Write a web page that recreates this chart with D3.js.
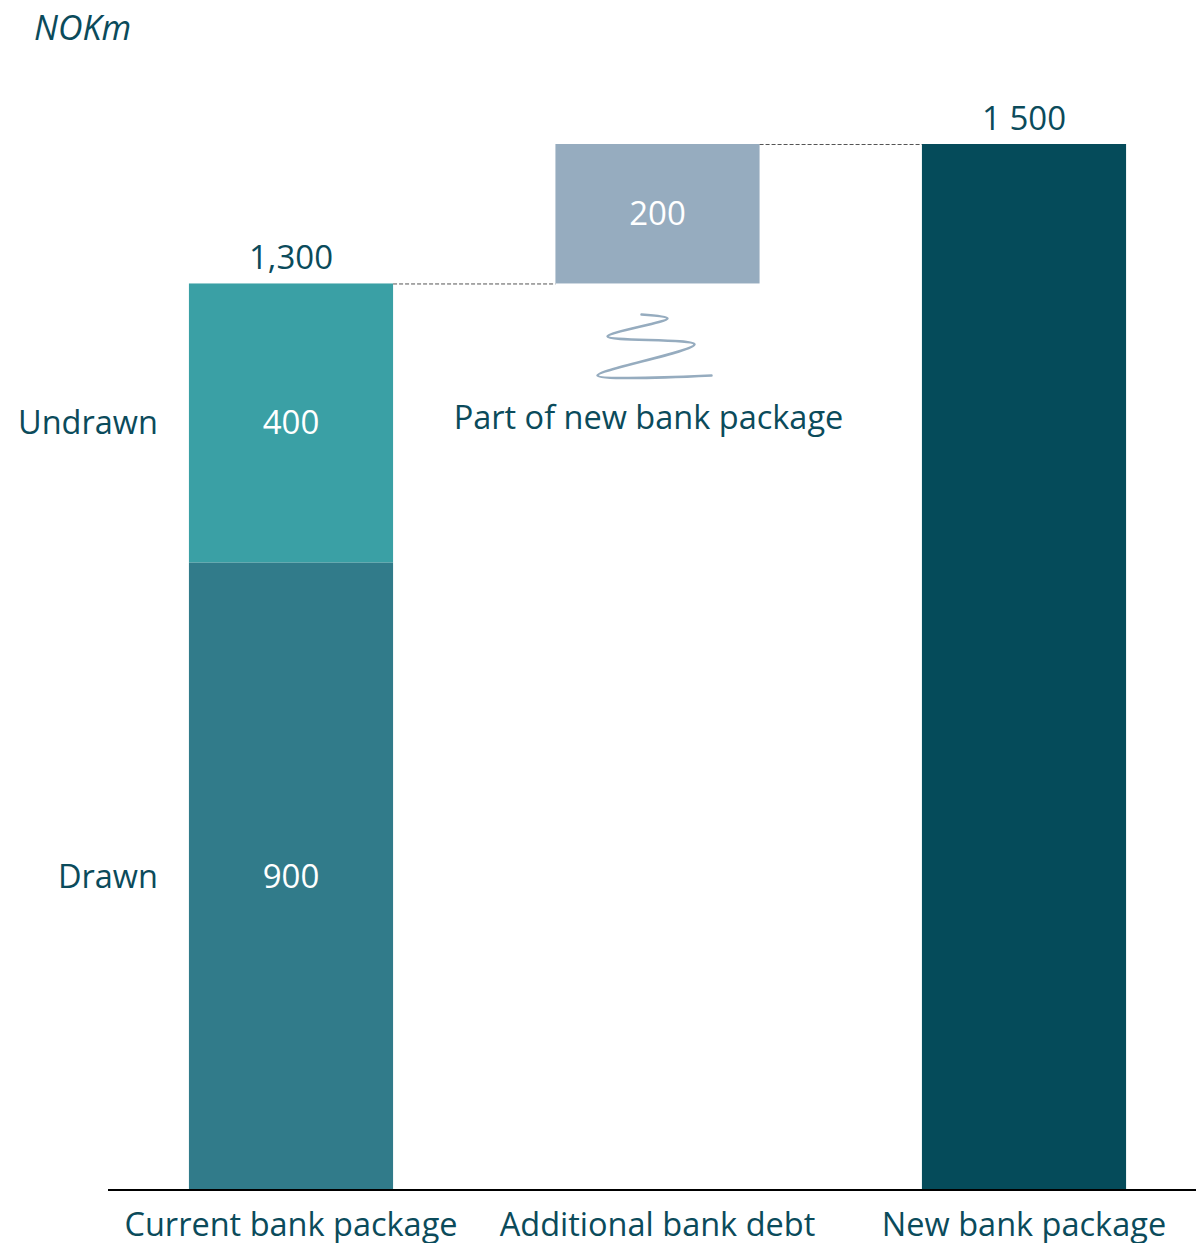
<!DOCTYPE html>
<html>
<head>
<meta charset="utf-8">
<script src="https://cdn.jsdelivr.net/npm/d3@7"></script>
<style>
  body { margin: 0; background: #fff; }
  text { font-family: "Open Sans", sans-serif; }
</style>
</head>
<body>
<script>
// chart data
var categories = ["Current bank package", "Additional bank debt", "New bank package"];
var drawn = [900, 0, 0];
var undrawn = [400, 0, 0];
var additional = [0, 200, 0];
var newPackage = [0, 0, 1500];
var totalLabels = ["1,300", "", "1 500"];
var unitLabel = "NOKm";
var noteLabel = "Part of new bank package";

var W = 1196, H = 1243;
var textColor = "#0b4b5b";

var svg = d3.select("body").append("svg").attr("width", W).attr("height", H);

var x = d3.scaleBand()
  .domain(categories)
  .range([107.75, 1207.25])
  .paddingInner(0.443)
  .paddingOuter(0.2215);

var y = d3.scaleLinear().domain([0, 1500]).range([1190, 144]);

// build segments (bottom, top) per category
var segs = [];
categories.forEach(function(c, i) {
  if (drawn[i]) segs.push({cat: c, y0: 0, y1: drawn[i], v: drawn[i], fill: "#317b8a"});
  if (undrawn[i]) segs.push({cat: c, y0: drawn[i], y1: drawn[i] + undrawn[i], v: undrawn[i], fill: "#3aa0a5"});
  if (additional[i]) {
    var base = drawn[i - 1] + undrawn[i - 1];
    segs.push({cat: c, y0: base, y1: base + additional[i], v: additional[i], fill: "#96acbf"});
  }
  if (newPackage[i]) segs.push({cat: c, y0: 0, y1: newPackage[i], v: newPackage[i], fill: "#054b5a", nolabel: true});
});

svg.selectAll("rect.seg").data(segs).enter().append("rect")
  .attr("class", "seg")
  .attr("x", function(d) { return x(d.cat); })
  .attr("width", x.bandwidth())
  .attr("y", function(d) { return y(d.y1); })
  .attr("height", function(d) { return y(d.y0) - y(d.y1); })
  .attr("fill", function(d) { return d.fill; });

svg.selectAll("text.seglab").data(segs.filter(function(d) { return !d.nolabel; })).enter().append("text")
  .attr("class", "seglab")
  .attr("x", function(d) { return x(d.cat) + x.bandwidth() / 2; })
  .attr("y", function(d) { return (y(d.y0) + y(d.y1)) / 2; })
  .attr("dy", "0.35em")
  .attr("text-anchor", "middle")
  .attr("fill", "#fff")
  .attr("font-size", 33)
  .text(function(d) { return d.v; });

// totals above bars
var totals = categories.map(function(c, i) { return drawn[i] + undrawn[i] + newPackage[i]; });
svg.selectAll("text.total").data(categories).enter().append("text")
  .attr("class", "total")
  .attr("x", function(d) { return x(d) + x.bandwidth() / 2; })
  .attr("y", function(d, i) { return y(totals[i]) - 14; })
  .attr("text-anchor", "middle")
  .attr("fill", textColor)
  .attr("font-size", 33)
  .text(function(d, i) { return totalLabels[i]; });

// dashed connectors
var t1 = drawn[0] + undrawn[0], t2 = t1 + additional[1];
var conns = [
  {x1: x(categories[0]) + x.bandwidth(), x2: x(categories[1]), v: t1},
  {x1: x(categories[1]) + x.bandwidth(), x2: x(categories[2]), v: t2}
];
svg.selectAll("line.conn").data(conns).enter().append("line")
  .attr("x1", function(d) { return d.x1; })
  .attr("x2", function(d) { return d.x2; })
  .attr("y1", function(d) { return y(d.v) + 0.5; })
  .attr("y2", function(d) { return y(d.v) + 0.5; })
  .attr("stroke", "#555")
  .attr("stroke-width", 1)
  .attr("stroke-dasharray", "4,2");

// series labels left of first bar
var side = [{t: "Undrawn", v: drawn[0] + undrawn[0] / 2}, {t: "Drawn", v: drawn[0] / 2}];
svg.selectAll("text.side").data(side).enter().append("text")
  .attr("class", "side")
  .attr("x", x(categories[0]) - 31)
  .attr("y", function(d) { return y(d.v); })
  .attr("dy", "0.35em")
  .attr("text-anchor", "end")
  .attr("fill", textColor)
  .attr("font-size", 32.5)
  .text(function(d) { return d.t; });

// squiggle + note under the additional bar
var cx = x(categories[1]) + x.bandwidth() / 2;
var sy = y(t1);
var squig = [[-16, 31], [10, 35], [-50, 53], [37, 61], [-60, 92], [54, 92]];
svg.append("path")
  .attr("d", d3.line().curve(d3.curveCatmullRom.alpha(0.5))(squig.map(function(p) { return [cx + p[0], sy + p[1]]; })))
  .attr("fill", "none")
  .attr("stroke", "#96acbf")
  .attr("stroke-width", 2.5)
  .attr("stroke-linecap", "round");

svg.append("text")
  .attr("x", cx - 9)
  .attr("y", sy + 134)
  .attr("dy", "0.35em")
  .attr("text-anchor", "middle")
  .attr("fill", textColor)
  .attr("font-size", 32.5)
  .text(noteLabel);

// x axis
var xAxis = svg.append("g").attr("transform", "translate(0," + y(0) + ")")
  .call(d3.axisBottom(x).tickSize(0).tickPadding(23));
xAxis.select(".domain").remove();
xAxis.append("line").attr("x1", 108).attr("x2", W).attr("stroke", "#000").attr("stroke-width", 2);
xAxis.selectAll(".tick text")
  .attr("font-family", "Open Sans, sans-serif")
  .attr("font-size", 32.5)
  .attr("fill", textColor);

// unit label
svg.append("text")
  .attr("x", 34)
  .attr("y", 40)
  .attr("font-style", "italic")
  .attr("font-size", 34)
  .attr("fill", textColor)
  .text(unitLabel);
</script>
</body>
</html>
